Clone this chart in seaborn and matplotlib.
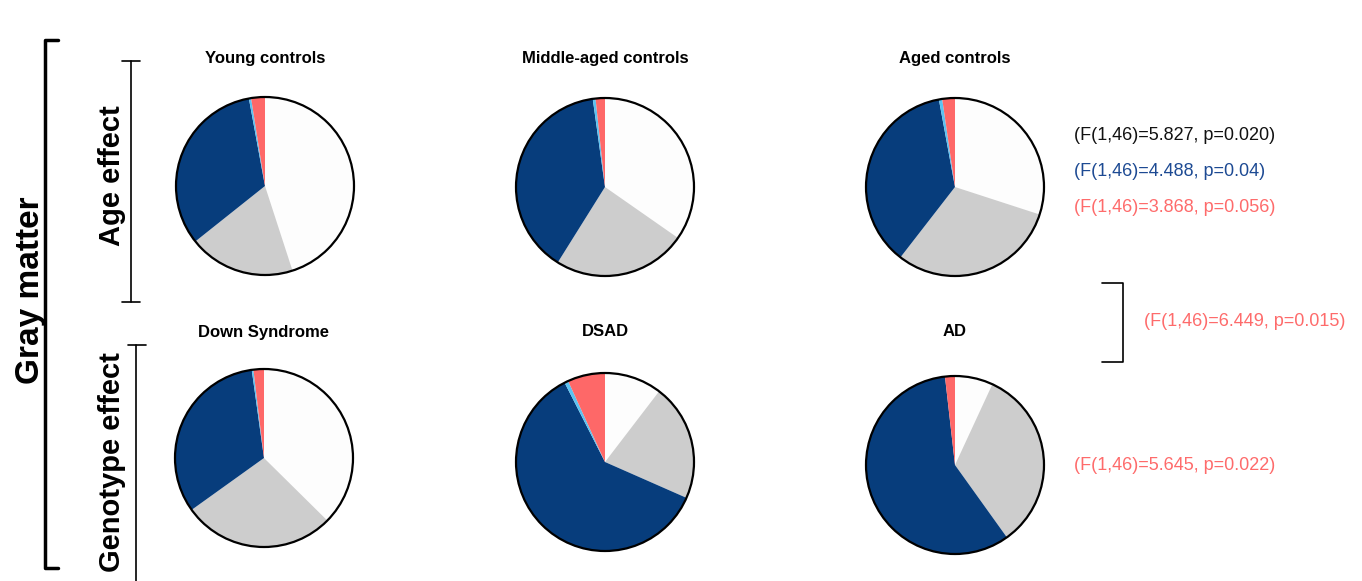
import matplotlib
matplotlib.use('Agg')
import matplotlib.pyplot as plt
import seaborn as sns
from matplotlib.patches import Circle

# Slices clockwise from 12 o'clock (%)
components = ['white', 'gray', 'dark blue', 'light blue', 'red']
young_controls = [45.0, 19.3, 32.8, 0.4, 2.5]
middle_controls = [34.7, 24.2, 38.9, 0.5, 1.7]
aged_controls = [30.0, 30.5, 36.6, 0.6, 2.3]
down_syndrome = [37.4, 27.7, 32.7, 0.3, 1.9]
dsad = [10.4, 21.2, 60.9, 0.7, 6.8]
ad = [6.9, 33.2, 58.1, 0.0, 1.8]

titles = ['Young controls', 'Middle-aged controls', 'Aged controls',
          'Down Syndrome', 'DSAD', 'AD']
groups = [young_controls, middle_controls, aged_controls,
          down_syndrome, dsad, ad]

stats_age = ['(F(1,46)=5.827, p=0.020)', '(F(1,46)=4.488, p=0.04)',
             '(F(1,46)=3.868, p=0.056)']
stats_cross = '(F(1,46)=6.449, p=0.015)'
stats_geno = '(F(1,46)=5.645, p=0.022)'

sns.set_theme(style='white')
plt.rcParams['font.family'] = ['Liberation Sans', 'DejaVu Sans']
plt.rcParams['text.color'] = 'black'

colors = sns.color_palette(['#fdfdfd', '#cdcdcd', '#073d7c', '#5bc3f2', '#fe6868'])
text_cols = ['#111111', '#1d4a93', '#fe6b6b']

W, H = 1362, 581
fig = plt.figure(figsize=(W / 100, H / 100), dpi=100)

# overlay for brackets / text in pixel coords
ov = fig.add_axes([0, 0, 1, 1])
ov.set_xlim(0, W)
ov.set_ylim(H, 0)
ov.axis('off')

centers = [(265, 186), (605, 187), (955, 187), (264, 458), (605, 462), (955, 465)]
title_y = [58, 58, 58, 332, 332, 332]
R = 89
pad = 1.05
for (cx, cy), ty, vals, title in zip(centers, title_y, groups, titles):
    size = 2 * R * pad
    ax = fig.add_axes([(cx - size / 2) / W, 1 - (cy + size / 2) / H, size / W, size / H])
    ax.pie(vals, colors=colors, startangle=90, counterclock=False,
           wedgeprops=dict(linewidth=0))
    ax.add_patch(Circle((0, 0), 1, fill=False, edgecolor='black', linewidth=1.6))
    ax.set_xlim(-pad, pad)
    ax.set_ylim(-pad, pad)
    ax.set_aspect('equal')
    ax.axis('off')
    ov.text(cx, ty, title, ha='center', va='center', fontsize=12,
            fontweight='bold', color='black')

# left labels and brackets
ov.text(31, 290, 'Gray matter', rotation=90, ha='center', va='center',
        fontsize=24, fontweight='bold', color='black')
ov.plot([58, 45, 45, 58], [40, 40, 568, 568], color='black', lw=2.5)

ov.text(112, 176, 'Age effect', rotation=90, ha='center', va='center',
        fontsize=21, fontweight='bold', color='black')
ov.plot([131, 131], [61, 302], color='black', lw=1.2)
ov.plot([122, 140], [61, 61], color='black', lw=1.2)
ov.plot([122, 140], [302, 302], color='black', lw=1.2)

ov.text(112, 462, 'Genotype effect', rotation=90, ha='center', va='center',
        fontsize=21, fontweight='bold', color='black')
ov.plot([136, 136], [345, 581], color='black', lw=1.2)
ov.plot([128, 146], [345, 345], color='black', lw=1.2)

# statistics
for i, (s, c) in enumerate(zip(stats_age, text_cols)):
    ov.text(1074, 136 + 36 * i, s, ha='left', va='center', fontsize=13, color=c)

ov.plot([1102, 1123, 1123, 1102], [283, 283, 362, 362], color='black', lw=1.2)
ov.text(1144, 322, stats_cross, ha='left', va='center', fontsize=13, color=text_cols[2])
ov.text(1074, 465, stats_geno, ha='left', va='center', fontsize=13, color=text_cols[2])

fig.savefig('out.png', dpi=100, facecolor='white')
